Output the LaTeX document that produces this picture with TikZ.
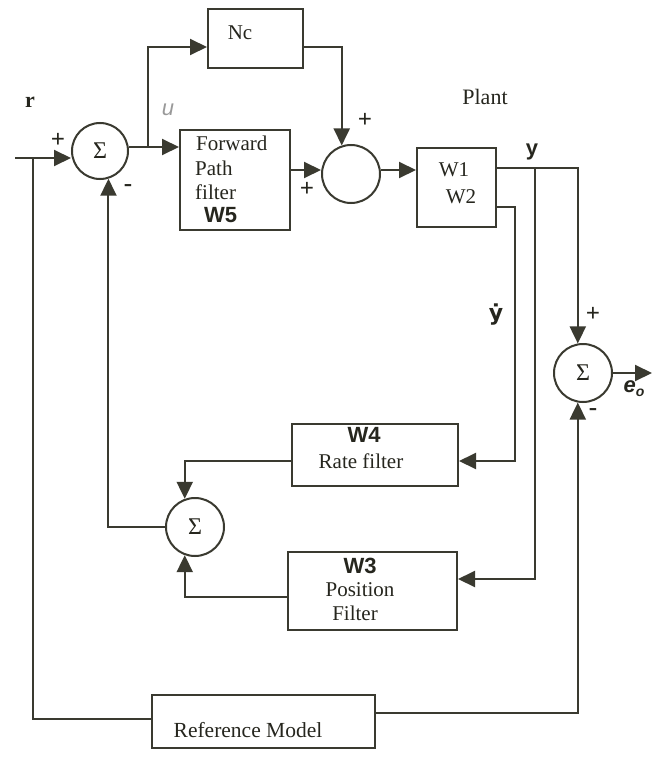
\documentclass[tikz,border=0pt]{standalone}
\usepackage{fontspec}
\setmainfont{Liberation Serif}
\newfontfamily\hand{Liberation Sans}
\newfontfamily\dvs{DejaVu Sans}
\usetikzlibrary{arrows.meta,calc}
\definecolor{lc}{RGB}{58,58,48}
\definecolor{tc}{RGB}{38,38,30}
\begin{document}
\begin{tikzpicture}[x=1pt,y=-1pt,
  ln/.style={line width=2pt, draw=lc},
  arr/.style={ln, -{Triangle[length=17pt,width=16pt]}},
  box/.style={draw=lc, line width=2pt, rectangle, inner sep=0pt},
  sumc/.style={draw=lc, line width=2pt, circle, inner sep=0pt, minimum size=#1, text=tc, font=\fontsize{24}{24}\selectfont},
  sumc/.default=56pt,
  txt/.style={text=tc, font=\fontsize{21}{24}\selectfont, inner sep=0pt},
  hw/.style={text=tc, font=\hand\bfseries\fontsize{22}{22}\selectfont, inner sep=0pt},
  sgn/.style={text=tc, font=\bfseries\fontsize{25}{25}\selectfont, inner sep=0pt}]
\useasboundingbox[fill=white] (0,0) rectangle (661,760);

% blocks
\node[box, minimum width=95pt, minimum height=59pt] (nc) at (255.5,38.5) {};
\node[txt] (nct) at (240,33) {Nc};
\node[sumc] (s1) at (100,151) {Σ};
\node[box, minimum width=110pt, minimum height=100pt] (fwd) at (235,180) {};
\node[txt, anchor=west] (f1) at (196,143) {Forward};
\node[txt, anchor=west] (f2) at (195,168) {Path};
\node[txt, anchor=west] (f3) at (195,192) {filter};
\node[hw, anchor=west] (f4) at (204,215) {W5};
\node[sumc=58pt] (s2) at (351,174) {};
\node[box, minimum width=79pt, minimum height=79pt] (plant) at (456.5,187.5) {};
\node[txt] (w1t) at (454,170) {W1};
\node[txt] (w2t) at (461,197) {W2};
\node[txt, font=\fontsize{22}{22}\selectfont] (plantlbl) at (485,97) {Plant};
\node[sumc=58pt] (e0) at (583,373) {Σ};
\node[box, minimum width=166pt, minimum height=62pt] (w4) at (375,455) {};
\node[hw] (w4a) at (364,435) {W4};
\node[txt] (w4b) at (361,461) {Rate filter};
\node[box, minimum width=169pt, minimum height=78pt] (w3) at (372.5,591) {};
\node[hw] (w3a) at (360,566) {W3};
\node[txt] (w3b) at (360,590) {Position};
\node[txt] (w3c) at (355,613) {Filter};
\node[sumc=58pt] (s3) at (195,527) {Σ};
\node[box, minimum width=223pt, minimum height=53pt] (refm) at (263.5,721.5) {};
\node[txt, font=\fontsize{21.5}{22}\selectfont] (refmt) at (248,730) {Reference Model};

% coordinates
\coordinate (rin) at (15,158);
\coordinate (j1) at (33,158);
\coordinate (j2) at (148,147);
\coordinate (fo) at ($(fwd.east)+(0,-10)$);
\coordinate (yo) at ($(plant.east)+(0,-19.5)$);
\coordinate (yb) at (535,168);
\coordinate (w2o) at ($(plant.east)+(0,19.5)$);
\coordinate (yd) at (515,461);
\coordinate (w4o) at ($(w4.west)+(0,6)$);
\coordinate (w3o) at ($(w3.west)+(0,6)$);
\coordinate (eo) at (652,373);

% connectors
\draw[arr] (rin) -- (rin -| s1.west);
\draw[ln] (j1) |- ($(refm.west)+(0,-3)$);
\draw[arr] ($(refm.east)+(0,-9)$) -| (e0.260);
\draw[arr] (s1.east |- j2) -- (j2 -| fwd.west);
\draw[arr] (j2) |- ($(nc.west)+(0,8.5)$);
\draw[arr] ($(nc.east)+(0,8.5)$) -| (s2.108);
\draw[arr] (fo) -- (fo -| s2.west);
\draw[arr] (s2.east |- fo) -- (fo -| plant.west);
\draw[arr] (yo) -| (e0.100);
\draw[arr] (yb) |- ($(w3.east)+(0,-12)$);
\draw[arr] (w2o) -| (yd) -- (yd -| w4.east);
\draw[arr] (w4o) -| (s3.110);
\draw[arr] (w3o) -| (s3.250);
\draw[arr] (s3.west) -| (s1.287);
\draw[arr] (e0.east) -- (eo);

% signs and labels
\node[sgn] (p1) at (58,140) {+};
\node[sgn] (m1) at (128,188) {-};
\node[sgn] (p2) at (365,120) {+};
\node[sgn] (p3) at (307,189) {+};
\node[sgn] (p4) at (593,314) {+};
\node[sgn] (m2) at (593,412) {-};
\node[txt, font=\bfseries\fontsize{22}{22}\selectfont] (rl) at (30,102) {r};
\node[text=black!40, font=\hand\itshape\fontsize{22}{22}\selectfont, inner sep=0pt] (ul) at (168,110) {u};
\node[hw] (yl) at (532,152) {y};
\node[text=tc, font=\dvs\bfseries\fontsize{22}{22}\selectfont, inner sep=0pt] (ydl) at (496,315) {ẏ};
\node[hw] (eol) at (634,389) {\itshape e\raisebox{-4pt}{\fontsize{14}{14}\selectfont o}};
\end{tikzpicture}
\end{document}
